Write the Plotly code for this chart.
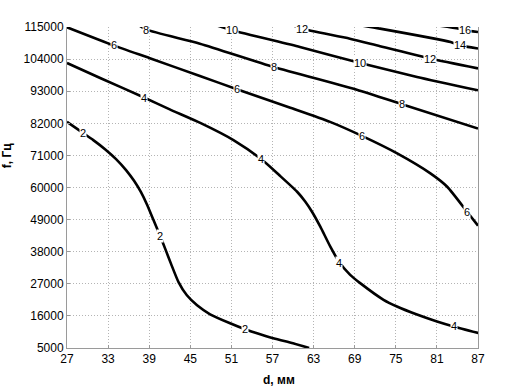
import plotly.graph_objects as go

# ---- data ----
x_ticks = [27, 33, 39, 45, 51, 57, 63, 69, 75, 81, 87]
y_ticks = [5000, 16000, 27000, 38000, 49000, 60000, 71000, 82000, 93000, 104000, 115000]

c2_d = [27.0, 29.38, 30.84, 32.55, 34.16, 35.62, 36.79, 37.82, 38.69, 39.61, 40.59, 41.40, 42.19, 43.30, 44.50, 45.99, 47.89, 50.81, 53.00, 55.20, 57.39, 60.0, 62.35]
c2_f = [82500, 78630, 76240, 73130, 69740, 65980, 62290, 58320, 54110, 48950, 43410, 38620, 33830, 27500, 23060, 19640, 16560, 13480, 11430, 9720, 8180, 6640, 5000]

c4_d = [27.0, 32.0, 38.25, 42.0, 46.53, 51.30, 55.34, 57.97, 60.56, 61.77, 62.79, 63.96, 65.42, 66.78, 68.34, 69.80, 73.21, 75.17, 77.99, 81.01, 83.44, 87.04]
c4_f = [102680, 97370, 90840, 86770, 82050, 76240, 69740, 64270, 58630, 55210, 51610, 46660, 39820, 34280, 30070, 27230, 21520, 19230, 16560, 14100, 12390, 10130]

c6_d = [27, 33.8, 39.1, 46.4, 51.8, 59.6, 65.4, 70.05, 75.2, 80.05, 82.5, 85.4, 87]
c6_f = [114900, 108700, 104300, 98200, 93700, 87350, 82500, 77700, 71700, 64850, 60270, 51700, 46900]

c8_d = [37.3, 38.6, 46.4, 57.2, 69.3, 75.9, 87]
c8_f = [115900, 114100, 109300, 101300, 93500, 88550, 80200]

c10_d = [48.4, 51.1, 61.0, 69.8, 78.1, 87]
c10_f = [115900, 113900, 108150, 102700, 97900, 93300]

c12_d = [60.0, 61.3, 68.3, 72.7, 80.0, 87]
c12_f = [115600, 114400, 111000, 108400, 104200, 100800]

c14_d = [69.8, 72.7, 83.0, 84.4, 87]
c14_f = [115600, 114440, 109860, 108700, 107600]

c16_d = [81.0, 84.2, 85.1, 87]
c16_f = [115600, 114440, 113900, 113300]

lab_text = ["2", "2", "2", "4", "4", "4", "4", "6", "6", "6", "6", "8", "8", "8", "10", "10", "12", "12", "14", "16"]
lab_d = [29.38, 40.6, 53.0, 38.25, 55.34, 66.78, 83.44, 33.8, 51.8, 70.05, 85.4, 38.6, 57.2, 75.9, 51.1, 69.8, 61.3, 80.0, 84.4, 85.1]
lab_f = [78630, 43410, 11430, 90840, 69740, 34280, 12390, 108700, 93700, 77700, 51700, 114100, 101300, 88550, 113900, 102700, 114400, 104200, 108700, 113900]

curves = [(c2_d, c2_f), (c4_d, c4_f), (c6_d, c6_f), (c8_d, c8_f),
          (c10_d, c10_f), (c12_d, c12_f), (c14_d, c14_f), (c16_d, c16_f)]

FONT = "Liberation Sans, Arial, sans-serif"

fig = go.Figure()
for d, f in curves:
    fig.add_trace(go.Scatter(x=d, y=f, mode="lines",
                             line=dict(color="black", width=2.6, shape="spline", smoothing=0.6),
                             hoverinfo="skip", showlegend=False))

for t, d, f in zip(lab_text, lab_d, lab_f):
    fig.add_annotation(x=d, y=f, text=t, showarrow=False, bgcolor="white",
                       borderpad=0, font=dict(family=FONT, size=11, color="black"))

fig.add_annotation(xref="paper", yref="paper", x=0.516, y=-0.099, text="<b>d, мм</b>",
                   showarrow=False, xanchor="center", yanchor="middle",
                   font=dict(family=FONT, size=12, color="black"))
fig.add_annotation(xref="paper", yref="paper", x=-0.144, y=0.60, text="<b>f, Гц</b>",
                   showarrow=False, xanchor="center", yanchor="middle", textangle=-90,
                   font=dict(family=FONT, size=12, color="black"))

axis_common = dict(showgrid=True, gridcolor="#b4b4b4", griddash="1px,2px", gridwidth=1,
                   ticks="inside", ticklen=3, tickcolor="#9a9a9a",
                   showline=True, linecolor="#9a9a9a", linewidth=1,
                   zeroline=False, tickfont=dict(family=FONT, size=12, color="black"))

fig.update_xaxes(range=[27, 87], tickvals=x_ticks, ticktext=[str(v) for v in x_ticks],
                 **axis_common)
fig.update_yaxes(range=[5000, 115000], tickvals=y_ticks, ticktext=[str(v) for v in y_ticks],
                 mirror=True, **axis_common)

fig.update_layout(width=506, height=389, margin=dict(l=67, r=28, t=27, b=41),
                  paper_bgcolor="white", plot_bgcolor="white")

fig.write_html("out.html")
